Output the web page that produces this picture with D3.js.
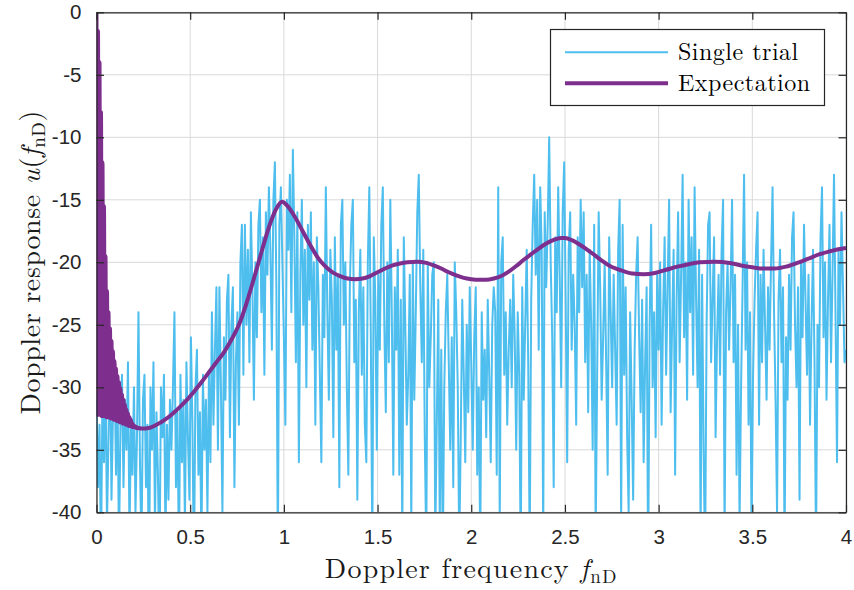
<!DOCTYPE html>
<html>
<head>
<meta charset="utf-8">
<script src="https://cdn.jsdelivr.net/npm/d3@7"></script>
<style>
  html, body { margin: 0; padding: 0; background: #ffffff; }
  svg { display: block; }
</style>
</head>
<body>
<svg id="chart" width="854" height="590"></svg>
<script>
// ---------------- data ----------------
const xTickValues = [0, 0.5, 1, 1.5, 2, 2.5, 3, 3.5, 4];
const xTickLabels = ["0", "0.5", "1", "1.5", "2", "2.5", "3", "3.5", "4"];
const yTickValues = [-40, -35, -30, -25, -20, -15, -10, -5, 0];
const yTickLabels = ["-40", "-35", "-30", "-25", "-20", "-15", "-10", "-5", "0"];

// Single trial: frequency grid step 0.008 from 0 to 4
const trialStep = 0.008;
const trialValues = [
  -31,-38,-33,-44,-30,-36,-29,-41,-34,-27,-39,-32,-28,-37,-30,-43,-33,-29,-38,-31,-35,-28,-42,-33,-37,
  -30,-40,-34,-24,-36,-43,-31,-29,-38,-33,-46,-30,-35,-28,-41,-32,-37,-45,-30,-34,-29,-42,-33,-39,-31,
  -35,-30,-24,-38,-32,-44,-29,-36,-31,-41,-28,-34,-39,-26,-33,-45,-30,-27,-37,-32,-43,-29,-35,-31,-40,
  -29,-36,-24,-33,-27,-22,-35,-22,-30,-40,-26,-31,-23,-21,-34,-25,-22,-38,-28,-24,-33,-20,-17,-29,-17,
  -25,-19,-28,-16,-22,-31,-20,-26,-17,-15,-24,-18,-29,-16,-21,-14,-19,-27,-15,-12,-22,-44,-17,-14,-20,
  -26,-33,-15,-19,-13,-24,-11,-18,-28,-16,-36,-21,-15,-25,-19,-30,-17,-23,-16,-27,-20,-33,-18,-22,-29,
  -36,-21,-26,-14,-24,-31,-19,-23,-34,-18,-27,-21,-38,-17,-15,-25,-20,-30,-37,-22,-17,-15,-28,-23,-39,
  -24,-19,-29,-22,-33,-36,-20,-14,-26,-43,-18,-23,-35,-21,-27,-17,-14,-25,-32,-20,-28,-15,-24,-37,-22,
  -27,-19,-37,-23,-42,-18,-25,-33,-29,-21,-41,-20,-31,-24,-16,-13,-22,-28,-19,-34,-43,-20,-30,-26,-21,
  -20,-42,-33,-23,-41,-27,-44,-30,-24,-21,-28,-35,-26,-38,-20,-24,-30,-43,-34,-23,-29,-36,-25,-32,-22,
  -28,-35,-26,-22,-37,-30,-43,-24,-31,-27,-34,-23,-29,-36,-25,-22,-24,-37,-14,-41,-20,-18,-29,-24,-33,
  -27,-23,-30,-21,-26,-35,-24,-29,-44,-22,-31,-25,-19,-28,-43,-23,-17,-13,-21,-15,-27,-14,-19,-42,-16,
  -22,-17,-10,-20,-26,-38,-18,-24,-14,-21,-30,-16,-12,-23,-36,-19,-16,-27,-21,-25,-33,-18,-24,-15,-22,
  -16,-28,-21,-32,-19,-25,-35,-17,-42,-29,-16,-22,-31,-26,-20,-28,-37,-18,-24,-30,-21,-27,-33,-19,-15,
  -41,-17,-29,-22,-34,-40,-24,-31,-39,-27,-21,-18,-26,-32,-23,-36,-28,-22,-45,-25,-17,-30,-24,-34,-21,
  -27,-20,-33,-24,-18,-29,-22,-15,-32,-25,-19,-37,-23,-16,-28,-21,-13,-26,-20,-31,-15,-24,-18,-29,-14,
  -23,-30,-19,-42,-21,-35,-44,-25,-17,-16,-28,-23,-18,-34,-26,-21,-29,-19,-15,-42,-24,-20,-27,-22,-15,
  -28,-21,-37,-25,-41,-30,-22,-13,-27,-20,-33,-24,-42,-29,-23,-19,-16,-33,-21,-28,-19,-25,-31,-22,-27,
  -20,-14,-24,-31,-40,-23,-19,-28,-22,-43,-26,-31,-21,-27,-18,-16,-25,-30,-22,-39,-20,-26,-17,-23,-29,
  -21,-33,-25,-19,-28,-43,-25,-30,-18,-14,-26,-20,-31,-23,-17,-28,-21,-13,-24,-36,-19,-25,-16,-22,-28,
  -27
];
const trialFreq = trialValues.map((v, i) => +(i * trialStep).toFixed(3));

// Expectation (theoretical mean response)
const expFreq = [
  0, 0.004, 0.008, 0.012, 0.016, 0.02, 0.024, 0.028, 0.032, 0.036,
  0.04, 0.044, 0.048, 0.052, 0.056, 0.06, 0.064, 0.068, 0.072, 0.076,
  0.08, 0.084, 0.088, 0.092, 0.096, 0.1, 0.104, 0.108, 0.112, 0.116,
  0.12, 0.124, 0.128, 0.132, 0.136, 0.14, 0.144, 0.148, 0.152, 0.156,
  0.16, 0.164, 0.168, 0.172, 0.176, 0.18, 0.184, 0.188, 0.192, 0.196,
  0.2, 0.204, 0.208, 0.212, 0.216, 0.22, 0.224,
  0.24, 0.28, 0.32, 0.36, 0.40, 0.44, 0.48, 0.52, 0.56, 0.60,
  0.64, 0.68, 0.72, 0.76, 0.80, 0.84, 0.88, 0.92, 0.96, 0.99,
  1.02, 1.06, 1.10, 1.14, 1.18, 1.22, 1.26, 1.30, 1.34, 1.38,
  1.42, 1.46, 1.50, 1.54, 1.58, 1.62, 1.66, 1.71, 1.76, 1.80,
  1.84, 1.88, 1.92, 1.96, 2.00, 2.04, 2.08, 2.12, 2.16, 2.20,
  2.24, 2.28, 2.32, 2.36, 2.40, 2.44, 2.48, 2.50, 2.54, 2.58,
  2.62, 2.66, 2.70, 2.74, 2.78, 2.82, 2.86, 2.92, 2.98, 3.04,
  3.10, 3.16, 3.22, 3.30, 3.38, 3.44, 3.50, 3.56, 3.62, 3.68,
  3.74, 3.80, 3.86, 3.92, 3.96, 4.00
];
const expValues = [
  0, -32.2, -1.5, -32.2, -4, -32.2, -8, -32.3, -12, -32.3,
  -15.5, -32.3, -19.5, -32.4, -22.3, -32.4, -24.0, -32.4, -25.3, -32.5,
  -26.3, -32.5, -27.1, -32.6, -27.9, -32.6, -28.5, -32.7, -29.1, -32.7,
  -29.6, -32.8, -30.1, -32.8, -30.6, -32.9, -31.0, -32.9, -31.4, -33.0,
  -31.8, -33.0, -32.1, -33.1, -32.4, -33.1, -32.6, -33.15, -32.9, -33.2,
  -33.05, -33.2, -33.15, -33.25, -33.2, -33.28, -33.26,
  -33.3, -33.25, -33.0, -32.65, -32.2, -31.65, -31.05, -30.35, -29.6, -28.8,
  -28.0, -27.2, -26.2, -25.0, -23.3, -21.3, -19.2, -17.2, -15.7, -15.15,
  -15.5, -16.4, -17.5, -18.6, -19.6, -20.3, -20.8, -21.1, -21.3, -21.35,
  -21.3, -21.1, -20.8, -20.5, -20.25, -20.1, -20.0, -19.95, -20.05, -20.25,
  -20.5, -20.8, -21.05, -21.25, -21.35, -21.4, -21.4, -21.3, -21.1, -20.75,
  -20.3, -19.8, -19.35, -18.9, -18.5, -18.2, -18.05, -18.05, -18.25, -18.6,
  -19.0, -19.45, -19.9, -20.3, -20.55, -20.75, -20.9, -20.95, -20.85, -20.6,
  -20.35, -20.15, -20.0, -19.95, -20.05, -20.25, -20.4, -20.5, -20.5, -20.35,
  -20.05, -19.7, -19.35, -19.1, -18.95, -18.85
];

const seriesNames = ["Single trial", "Expectation"];
const seriesColors = ["#4DBEEE", "#7E2F8E"];

// ---------------- drawing ----------------
const svg = d3.select("#chart");
const plot = { left: 96.5, right: 846, top: 12.3, bottom: 512.3 };
const x = d3.scaleLinear().domain([0, 4]).range([plot.left, plot.right]);
const y = d3.scaleLinear().domain([-40, 0]).range([plot.bottom, plot.top]);
const axisColor = "#262626";
const sansFont = "'Liberation Sans', Arial, Helvetica, sans-serif";
const serifFont = "'Latin Modern Roman', 'CMU Serif', 'Liberation Serif', 'Times New Roman', serif";

svg.append("defs").append("clipPath").attr("id", "plotClip")
  .append("rect")
  .attr("x", plot.left).attr("y", plot.top)
  .attr("width", plot.right - plot.left).attr("height", plot.bottom - plot.top);

// grid
const grid = svg.append("g").attr("class", "grid");
grid.selectAll("line.gx").data(xTickValues).enter().append("line")
  .attr("x1", d => x(d)).attr("x2", d => x(d))
  .attr("y1", plot.top).attr("y2", plot.bottom)
  .attr("stroke", "#d9d9d9").attr("stroke-width", 1);
grid.selectAll("line.gy").data(yTickValues).enter().append("line")
  .attr("x1", plot.left).attr("x2", plot.right)
  .attr("y1", d => y(d)).attr("y2", d => y(d))
  .attr("stroke", "#d9d9d9").attr("stroke-width", 1);

// data lines
const data = svg.append("g").attr("clip-path", "url(#plotClip)");
const trialPts = trialValues.map((v, i) => [trialFreq[i], v]);
const expPts = expValues.map((v, i) => [expFreq[i], v]);

data.append("path")
  .attr("d", d3.line().x(d => x(d[0])).y(d => y(d[1]))(trialPts))
  .attr("fill", "none").attr("stroke", seriesColors[0])
  .attr("stroke-width", 2).attr("stroke-linejoin", "round");

data.append("path")
  .attr("d", d3.line().curve(d3.curveMonotoneX).x(d => x(d[0])).y(d => y(d[1]))(expPts))
  .attr("fill", "none").attr("stroke", seriesColors[1])
  .attr("stroke-width", 4).attr("stroke-linejoin", "round");

// axes (box with inward ticks on all sides)
const tickLen = 7.5;
const axes = svg.append("g");
const xAxisB = d3.axisBottom(x).tickValues(xTickValues).tickFormat((d, i) => xTickLabels[i])
  .tickSizeInner(-tickLen).tickSizeOuter(0).tickPadding(17);
const xAxisT = d3.axisTop(x).tickValues(xTickValues).tickFormat("")
  .tickSizeInner(-tickLen).tickSizeOuter(0);
const yAxisL = d3.axisLeft(y).tickValues(yTickValues).tickFormat((d, i) => yTickLabels[i])
  .tickSizeInner(-tickLen).tickSizeOuter(0).tickPadding(15);
const yAxisR = d3.axisRight(y).tickValues(yTickValues).tickFormat("")
  .tickSizeInner(-tickLen).tickSizeOuter(0);

function styleAxis(g) {
  g.select(".domain").attr("stroke", axisColor).attr("stroke-width", 1.2);
  g.selectAll(".tick line").attr("stroke", axisColor).attr("stroke-width", 1.2);
  g.selectAll(".tick text").attr("fill", axisColor)
    .style("font-family", sansFont).style("font-size", "20.5px");
}
axes.append("g").attr("transform", `translate(0,${plot.bottom})`).call(xAxisB).call(styleAxis);
axes.append("g").attr("transform", `translate(0,${plot.top})`).call(xAxisT).call(styleAxis);
axes.append("g").attr("transform", `translate(${plot.left},0)`).call(yAxisL).call(styleAxis);
axes.append("g").attr("transform", `translate(${plot.right},0)`).call(yAxisR).call(styleAxis);

// axis labels
const xl = svg.append("text")
  .attr("x", (plot.left + plot.right) / 2).attr("y", 578)
  .attr("text-anchor", "middle").attr("fill", "#1a1a1a")
  .style("font-family", serifFont).style("font-size", "28px")
  .style("letter-spacing", "1.2px");
xl.append("tspan").text("Doppler frequency ");
xl.append("tspan").style("font-style", "italic").text("f");
xl.append("tspan").attr("dy", 5).style("font-size", "19px").text("nD");

const yl = svg.append("text")
  .attr("transform", `translate(40,${(plot.top + plot.bottom) / 2}) rotate(-90)`)
  .attr("text-anchor", "middle").attr("fill", "#1a1a1a")
  .style("font-family", serifFont).style("font-size", "28px")
  .style("letter-spacing", "0.6px");
yl.append("tspan").text("Doppler response ");
yl.append("tspan").style("font-style", "italic").text("u");
yl.append("tspan").text("(");
yl.append("tspan").style("font-style", "italic").text("f");
yl.append("tspan").attr("dy", 5).style("font-size", "19px").text("nD");
yl.append("tspan").attr("dy", -5).text(")");

// legend
const leg = svg.append("g");
leg.append("rect").attr("x", 550.5).attr("y", 29.5).attr("width", 274).attr("height", 76)
  .attr("fill", "#ffffff").attr("stroke", axisColor).attr("stroke-width", 1.2);
const legRows = [52.3, 83.3];
seriesNames.forEach((name, i) => {
  leg.append("line").attr("x1", 565).attr("x2", 668)
    .attr("y1", legRows[i]).attr("y2", legRows[i])
    .attr("stroke", seriesColors[i]).attr("stroke-width", i === 0 ? 2 : 4);
  leg.append("text").attr("x", 678).attr("y", legRows[i] + 7.5)
    .attr("fill", "#000")
    .style("font-family", serifFont).style("font-size", "24px")
    .style("letter-spacing", "0.5px")
    .text(name);
});
</script>
</body>
</html>
